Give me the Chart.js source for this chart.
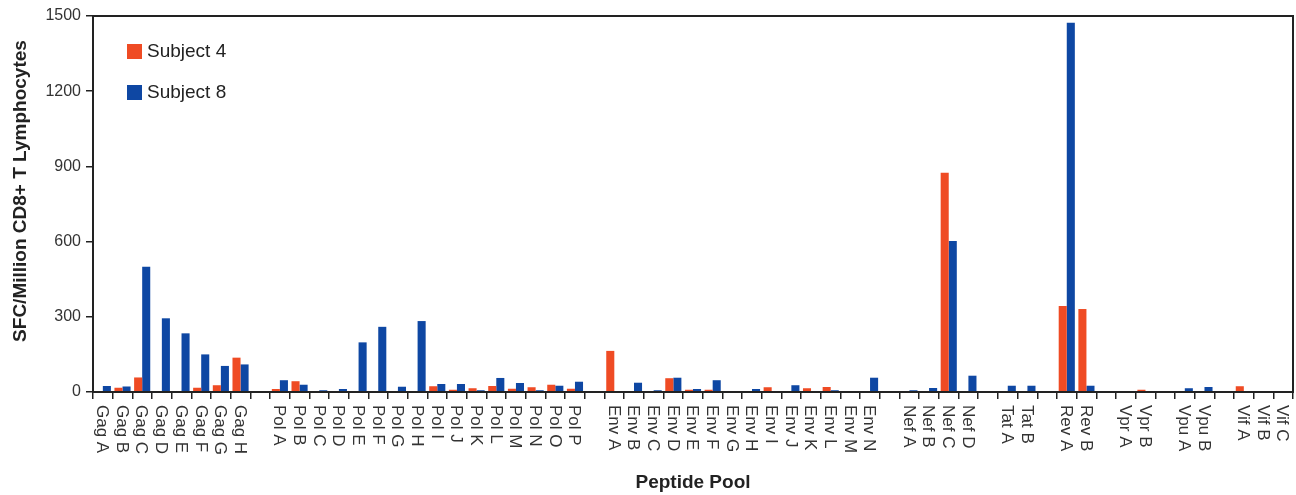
<!DOCTYPE html>
<html>
<head>
<meta charset="utf-8">
<script src="https://cdn.jsdelivr.net/npm/chart.js@4"></script>
<style>
  html, body { margin: 0; padding: 0; background: #fff; }
  #wrap { width: 1296px; height: 495px; }
</style>
</head>
<body>
<div id="wrap"><canvas id="eliChart" width="1296" height="495"></canvas></div>
<script>
// peptide pools, '' = gap between protein groups
const categories = [
  "Gag A", "Gag B", "Gag C", "Gag D", "Gag E", "Gag F", "Gag G", "Gag H", "",
  "Pol A", "Pol B", "Pol C", "Pol D", "Pol E", "Pol F", "Pol G", "Pol H",
  "Pol I", "Pol J", "Pol K", "Pol L", "Pol M", "Pol N", "Pol O", "Pol P", "",
  "Env A", "Env B", "Env C", "Env D", "Env E", "Env F", "Env G",
  "Env H", "Env I", "Env J", "Env K", "Env L", "Env M", "Env N", "",
  "Nef A", "Nef B", "Nef C", "Nef D", "",
  "Tat A", "Tat B", "",
  "Rev A", "Rev B", "",
  "Vpr A", "Vpr B", "",
  "Vpu A", "Vpu B", "",
  "Vif A", "Vif B", "Vif C"
];

const subject4 = [
  0, 17, 58, 0, 0, 17, 27, 137, null,
  12, 43, 0, 0, 0, 0, 4, 0, 23, 9, 15, 24, 13, 19, 29, 13, null,
  164, 0, 4, 55, 9, 9, 0, 0, 19, 4, 15, 20, 0, 0, null,
  0, 4, 875, 4, null,
  0, 0, null,
  343, 331, null,
  0, 9, null,
  0, 0, null,
  23, 4, 0
];

const subject8 = [
  24, 22, 500, 294, 234, 150, 104, 110, null,
  47, 29, 7, 12, 198, 260, 21, 283, 32, 32, 7, 56, 36, 7, 25, 41, null,
  0, 37, 7, 57, 12, 47, 0, 12, 0, 27, 0, 7, 0, 57, null,
  7, 16, 602, 65, null,
  25, 25, null,
  1473, 25, null,
  0, 0, null,
  15, 20, null,
  0, 0, 0
];

const yTicks = [0, 300, 600, 900, 1200, 1500];

const seriesNames = ["Subject 4", "Subject 8"];
const RED = "#ef4b24";
const BLUE = "#0e47a3";
const FONT = '"Liberation Sans", Arial, Helvetica, sans-serif';

// frame, rotated pool labels, legend and axis titles
const decor = {
  id: "decor",
  afterDraw(chart) {
    const { ctx, chartArea: a, scales: { x } } = chart;
    ctx.save();

    ctx.strokeStyle = "#222";
    ctx.lineWidth = 2;
    ctx.strokeRect(a.left, a.top, a.right - a.left, a.bottom - a.top);

    // x labels read top to bottom
    ctx.fillStyle = "#333";
    ctx.font = "17px " + FONT;
    ctx.textAlign = "left";
    ctx.textBaseline = "middle";
    categories.forEach((c, i) => {
      if (!c) return;
      ctx.save();
      ctx.translate(x.getPixelForValue(i) - 1, a.bottom + 13);
      ctx.rotate(Math.PI / 2);
      ctx.fillText(c, 0, 0);
      ctx.restore();
    });

    // legend inside the plot
    const colors = [RED, BLUE];
    ctx.font = "19px " + FONT;
    seriesNames.forEach((name, k) => {
      const top = a.top + 28 + k * 41;
      ctx.fillStyle = colors[k];
      ctx.fillRect(a.left + 34, top, 15, 15);
      ctx.fillStyle = "#222";
      ctx.fillText(name, a.left + 54, top + 8);
    });

    // axis titles
    ctx.fillStyle = "#222";
    ctx.font = "bold 19px " + FONT;
    ctx.textAlign = "center";
    ctx.fillText("Peptide Pool", (a.left + a.right) / 2, 483);
    ctx.save();
    ctx.translate(21, 191);
    ctx.rotate(-Math.PI / 2);
    ctx.fillText("SFC/Million CD8+ T Lymphocytes", 0, 0);
    ctx.restore();

    ctx.restore();
  }
};

new Chart(document.getElementById("eliChart"), {
  type: "bar",
  data: {
    labels: categories,
    datasets: [
      { label: seriesNames[0], data: subject4, backgroundColor: RED },
      { label: seriesNames[1], data: subject8, backgroundColor: BLUE }
    ]
  },
  options: {
    responsive: false,
    animation: false,
    layout: { padding: { top: 16, right: 3, left: 0, bottom: 0 } },
    datasets: {
      bar: { categoryPercentage: 0.82, barPercentage: 1.0 }
    },
    plugins: {
      legend: { display: false },
      tooltip: { enabled: false }
    },
    scales: {
      x: {
        offset: true,
        grid: {
          offset: true,
          drawOnChartArea: false,
          drawTicks: true,
          tickLength: 7,
          color: "#222",
          lineWidth: 1.5
        },
        border: { display: true, color: "#222", width: 2 },
        ticks: { display: false, autoSkip: false },
        afterFit(s) { s.height = 103; }
      },
      y: {
        min: 0,
        max: 1500,
        afterBuildTicks(s) { s.ticks = yTicks.map(v => ({ value: v })); },
        grid: {
          drawOnChartArea: false,
          drawTicks: true,
          tickLength: 7,
          color: "#222",
          lineWidth: 1.5
        },
        border: { display: true, color: "#222", width: 2 },
        ticks: {
          color: "#333",
          padding: 5,
          font: { size: 16, family: FONT },
          callback: v => String(v)
        },
        afterFit(s) { s.width = 93; }
      }
    }
  },
  plugins: [decor]
});
</script>
</body>
</html>
